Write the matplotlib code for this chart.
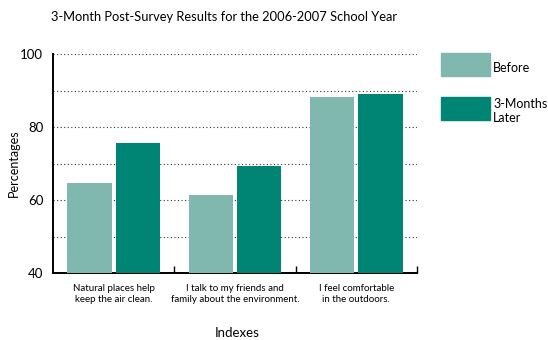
import numpy as np
import matplotlib
matplotlib.use('Agg')
import matplotlib.pyplot as plt
from matplotlib.patches import Rectangle

# data
categories = ['Natural places help\nkeep the air clean.',
              'I talk to my friends and\nfamily about the environment.',
              'I feel comfortable\nin the outdoors.']
before = [64.7, 61.4, 88.2]
later = [75.6, 69.4, 89.0]
series_names = ['Before', '3-Months\nLater']
colors = ['#80b8b0', '#008575']

plt.rcParams['font.family'] = ['Lato', 'DejaVu Sans']

fig = plt.figure(figsize=(5.48, 3.40), dpi=100)
ax = fig.add_axes([53 / 548, 1 - 273 / 340, 364 / 548, 219 / 340])

x = np.arange(len(categories))
w = 0.364
gap = 0.033
ax.bar(x - (w + gap) / 2, [b - 40 for b in before], w, bottom=40, color=colors[0], zorder=3)
ax.bar(x + (w + gap) / 2, [l - 40 for l in later], w, bottom=40, color=colors[1], zorder=3)

ax.set_xlim(-0.5, 2.5)
ax.set_ylim(40, 100)
ax.set_yticks([40, 60, 80, 100])
ax.set_yticks([50, 70, 90], minor=True)
ax.grid(True, axis='y', which='both', linestyle=(0, (1, 2.2)), color='#333333', linewidth=0.8, zorder=1)

ax.set_xticks(x)
ax.set_xticklabels(categories, fontsize=7)
ax.set_xticks([0.5, 1.5, 2.5], minor=True)
ax.tick_params(axis='x', which='major', length=0, pad=8)
ax.tick_params(axis='x', which='minor', direction='in', length=5, width=1)
ax.tick_params(axis='y', which='both', length=0, labelsize=9.5, pad=7)

for s in ['top', 'right']:
    ax.spines[s].set_visible(False)
for s in ['left', 'bottom']:
    ax.spines[s].set_linewidth(1.4)

fig.text(14 / 548, 1 - 163 / 340, 'Percentages', rotation=90, ha='center', va='center', fontsize=9)
fig.text(237 / 548, 1 - 333 / 340, 'Indexes', ha='center', va='center', fontsize=9.5)

fig.text(224 / 548, 1 - 17 / 340, '3-Month Post-Survey Results for the 2006-2007 School Year',
         ha='center', va='center', fontsize=9.3)

# legend drawn by hand to match the layout
fig.patches.append(Rectangle((441 / 548, 1 - 76 / 340), 49 / 548, 23 / 340,
                             transform=fig.transFigure, color=colors[0]))
fig.text(493 / 548, 1 - 68 / 340, series_names[0], ha='left', va='center', fontsize=9)
fig.patches.append(Rectangle((441 / 548, 1 - 120 / 340), 49 / 548, 23 / 340,
                             transform=fig.transFigure, color=colors[1]))
fig.text(493 / 548, 1 - 111 / 340, series_names[1], ha='left', va='center', fontsize=9,
         linespacing=1.15)

fig.savefig('out.png', dpi=100)
